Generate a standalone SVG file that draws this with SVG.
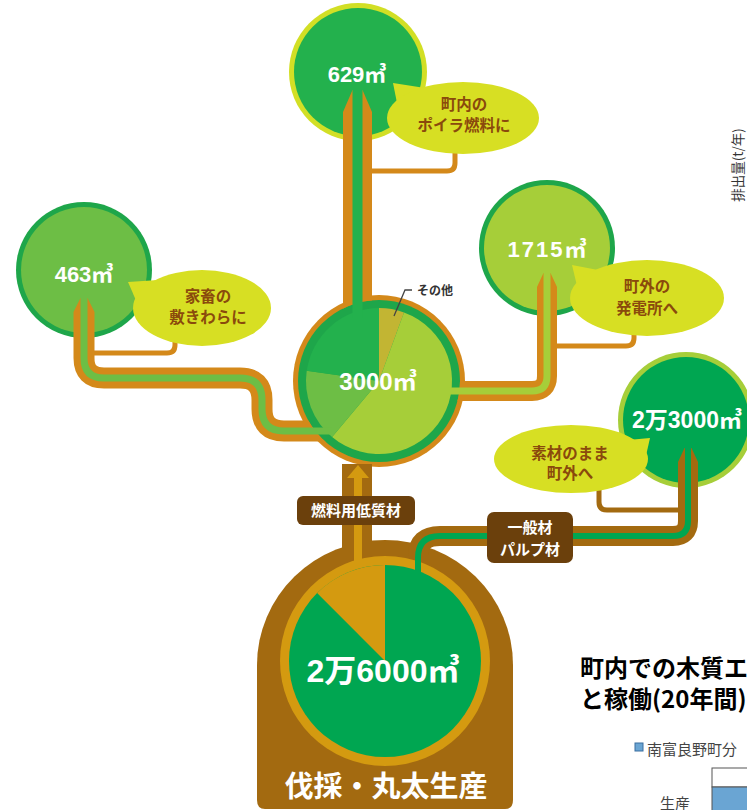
<svg xmlns="http://www.w3.org/2000/svg" width="747" height="810" viewBox="0 0 747 810">
<style>
.num{font-family:"Liberation Sans","Noto Sans CJK JP",sans-serif;font-weight:bold;fill:#fff;text-anchor:middle}
.bub{font-family:"Noto Sans CJK JP",sans-serif;font-weight:bold;fill:#8a4a0c;font-size:15.5px;text-anchor:middle}
.lab{font-family:"Noto Sans CJK JP",sans-serif;font-weight:bold;fill:#fff;font-size:15px;text-anchor:middle}
.bubble{fill:#d7df23}
.pipeO{fill:none;stroke:#d4891a}
.pipeB{fill:none;stroke:#a36a10}
.brk{fill:none;stroke-width:5}
.tag{fill:#6b400c}
.jp{font-family:"Noto Sans CJK JP",sans-serif}
</style>
<defs>
<clipPath id="outsideCenter">
<path clip-rule="evenodd" d="M0,0 H747 V810 H0 Z M379,300 A81,81 0 1 0 379,462 A81,81 0 1 0 379,300 Z"/>
</clipPath>
</defs>

<!-- production dome -->
<g id="node-production">
<path d="M257,665 A128,125 0 0 1 513,665 V800 Q513,809 505,809 H265 Q257,809 257,800 Z" fill="#a36a10"/>
<circle cx="385" cy="661" r="105" fill="#d49a10"/>
<circle cx="385" cy="661" r="96" fill="#00a651"/>
<path d="M385,661 L317.1,593.1 A96,96 0 0 1 385,565 Z" fill="#d49a10"/>
<text class="num" x="383" y="682" font-size="32">2万6000㎥</text>
<text class="jp" x="386" y="797" font-weight="bold" font-size="29" fill="#fff" text-anchor="middle">伐採・丸太生産</text>
</g>

<!-- outer circles -->
<g id="node-629">
<circle cx="358" cy="72" r="69" fill="#d2df25"/>
<circle cx="358" cy="72" r="64" fill="#23b14d"/>
<text class="num" x="357" y="82" font-size="22">629㎥</text>
</g>
<g id="node-463">
<circle cx="84" cy="270" r="68" fill="#1ea64a"/>
<circle cx="84" cy="270" r="63" fill="#6dbe45"/>
<text class="num" x="84" y="282" font-size="22">463㎥</text>
</g>
<g id="node-1715">
<circle cx="547" cy="248" r="68" fill="#1ea64a"/>
<circle cx="547" cy="248" r="63" fill="#a6ce39"/>
<text class="num" x="548" y="257" font-size="22" letter-spacing="2">1715㎥</text>
</g>
<g id="node-23000">
<circle cx="686" cy="420" r="68" fill="#a6ce39"/>
<circle cx="686" cy="420" r="63" fill="#00a651"/>
<text class="num" x="687" y="428" font-size="23">2万3000㎥</text>
</g>

<!-- center pie -->
<g id="node-center">
<circle cx="379" cy="381" r="86" fill="#d4891a"/>
<circle cx="379" cy="381" r="81" fill="#1ea64a"/>
<path d="M379,381 L379,308 A73,73 0 0 1 404,312.4 Z" fill="#c2b533"/>
<path d="M379,381 L404,312.4 A73,73 0 1 1 332.1,436.9 Z" fill="#a6ce39"/>
<path d="M379,381 L332.1,436.9 A73,73 0 0 1 306.7,370.8 Z" fill="#6dbe45"/>
<path d="M379,381 L306.7,370.8 A73,73 0 0 1 379,308 Z" fill="#23b14d"/>
<text class="num" x="378" y="390" font-size="24">3000㎥</text>
</g>

<!-- connectors -->
<g id="connectors">
<g clip-path="url(#outsideCenter)">
<path class="pipeO" stroke-width="29" d="M357.5,112 V380"/>
<path class="pipeO" stroke-width="21" d="M84,312 V358 Q84,378 104,378 H240 Q262,378 262,400 V409 Q262,431 284,431 H380"/>
<path class="pipeO" stroke-width="20" d="M380,391 H532 Q547,391 547,376 V287"/>
</g>
<polygon points="343,112 352.5,90 362.5,90 372,112" fill="#d4891a"/>
<polygon points="73.5,312 80.5,298 87.5,298 94.5,312" fill="#d4891a"/>
<polygon points="537,287 543.5,273 550.5,273 557,287" fill="#d4891a"/>
<path class="pipeB" stroke-width="30" d="M357,464 V550"/>
<path class="pipeB" stroke-width="20" d="M688,462 V521 Q688,536 673,536 H440 Q418,536 418,556"/>
<polygon points="678,462 684.5,448 691.5,448 698,462" fill="#a36a10"/>
<!-- brackets -->
<path class="brk" stroke="#d4891a" d="M372,171 H447 Q455,171 455,163 V150"/>
<path class="brk" stroke="#d4891a" d="M94,353 H167 Q175,353 175,345 V338"/>
<path class="brk" stroke="#d4891a" d="M557,346 H626 Q634,346 634,338 V330"/>
<path class="brk" stroke="#a36a10" d="M678,510 H607 Q599,510 599,502 V488"/>
<!-- stripes -->
<path fill="none" stroke="#23b14d" stroke-width="10" d="M357.5,90 V318"/>
<path fill="none" stroke="#6dbe45" stroke-width="7" d="M84,298 V358 Q84,378 104,378 H240 Q262,378 262,400 V409 Q262,431 284,431 H332"/>
<path fill="none" stroke="#a6ce39" stroke-width="7" d="M448,391 H532 Q547,391 547,376 V273"/>
<path fill="none" stroke="#00a651" stroke-width="6" d="M688,448 V521 Q688,536 673,536 H440 Q418,536 418,558 V572"/>
<path fill="none" stroke="#d49a10" stroke-width="8" d="M358,477 V566"/>
<polygon points="347,478 358,465 369,478" fill="#d49a10"/>
</g>

<!-- bubbles -->
<g id="bubble-629">
<polygon class="bubble" points="393,83 398,108 425,88"/>
<ellipse class="bubble" cx="463" cy="118" rx="76" ry="36"/>
<text class="bub" x="464" y="110">町内の</text>
<text class="bub" x="464" y="131">ポイラ燃料に</text>
</g>
<g id="bubble-463">
<polygon class="bubble" points="128,282 138,305 158,280"/>
<ellipse class="bubble" cx="202" cy="308" rx="69" ry="38"/>
<text class="bub" x="208" y="302">家畜の</text>
<text class="bub" x="208" y="323">敷きわらに</text>
</g>
<g id="bubble-1715">
<polygon class="bubble" points="572,265 578,290 598,270"/>
<ellipse class="bubble" cx="647" cy="298" rx="77" ry="38"/>
<text class="bub" x="647" y="292">町外の</text>
<text class="bub" x="647" y="314">発電所へ</text>
</g>
<g id="bubble-23000">
<polygon class="bubble" points="650,438 628,440 645,460"/>
<ellipse class="bubble" cx="571" cy="459" rx="77" ry="34"/>
<text class="bub" x="570" y="459">素材のまま</text>
<text class="bub" x="570" y="479">町外へ</text>
</g>

<!-- flow labels -->
<g id="label-fuel">
<rect class="tag" x="297" y="496" width="118" height="29" rx="6"/>
<text class="lab" x="356" y="516">燃料用低質材</text>
</g>
<g id="label-general">
<rect class="tag" x="487" y="512" width="86" height="51" rx="7"/>
<text class="lab" x="530" y="533">一般材</text>
<text class="lab" x="530" y="555">パルプ材</text>
</g>

<g id="label-other">
<path d="M412,290 H405 L394,316" fill="none" stroke="#444" stroke-width="1.3"/>
<text class="jp" x="417" y="295" font-weight="bold" font-size="12" fill="#333">その他</text>
</g>

<!-- partial chart at right -->
<text class="jp" transform="translate(743,165) rotate(-90)" text-anchor="middle" font-size="13.5" fill="#333">排出量(t/年)</text>
<text class="jp" x="580" y="677" font-weight="bold" font-size="24" fill="#000">町内での木質エ</text>
<text class="jp" x="580" y="708" font-weight="bold" font-size="24" fill="#000">と稼働(20年間)</text>
<rect x="635" y="743" width="8" height="8" fill="#6aa5d3" stroke="#3a6fa0" stroke-width="1"/>
<text class="jp" x="647" y="755" font-size="15" fill="#444">南富良野町分</text>
<rect x="712" y="768" width="40" height="19" fill="#fff" stroke="#555" stroke-width="1"/>
<rect x="712" y="787" width="40" height="25" fill="#6aa5d3" stroke="#555" stroke-width="1"/>
<text class="jp" x="660" y="809" font-size="15" fill="#444">生産</text>
</svg>
